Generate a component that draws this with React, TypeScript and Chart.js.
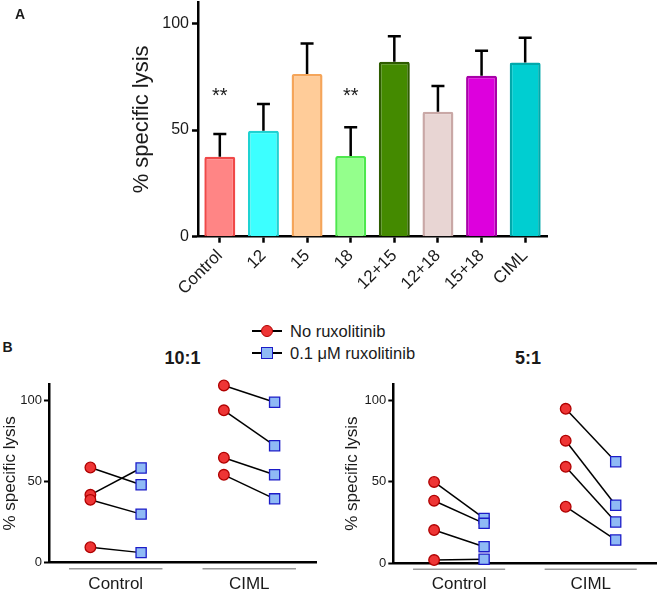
import React, { useEffect, useRef } from 'react';
import { Chart, registerables } from 'chart.js';

Chart.register(...registerables);

const FONT = "'Liberation Sans', Arial, Helvetica, sans-serif";
const INK = '#1a1a1a';

// ---------- Panel A data ----------
const conditions = ['Control', '12', '15', '18', '12+15', '12+18', '15+18', 'CIML'];
const meanLysis = [37.5, 49.7, 76.2, 37.8, 82.0, 58.6, 75.4, 81.7];
const errLysis = [10.6, 12.5, 14.4, 13.5, 12.0, 12.0, 11.8, 11.6];
const significance = ['**', '', '', '**', '', '', '', ''];
const barFill = ['#FF8585', '#3CFFFF', '#FFCC99', '#94FF8C', '#448A00', '#E8D5D3', '#DD00DD', '#00CED1'];
const barEdge = ['#F04848', '#1ED2D2', '#F5A55A', '#4DE84D', '#2E5C00', '#C9A8A6', '#A800A8', '#00A9AB'];
const lysisTicks = [0, 50, 100];

// ---------- Panel B data ----------
const groupLabels = ['Control', 'CIML'];
const seriesNames = ['No ruxolitinib', '0.1 \u03BCM ruxolitinib'];
// E:T 10:1
const r10NoRuxControl = [58.6, 41.8, 38.7, 9.5];
const r10RuxControl = [48.0, 58.3, 29.9, 6.2];
const r10NoRuxCIML = [109.1, 93.8, 64.6, 54.1];
const r10RuxCIML = [98.8, 72.0, 54.1, 39.3];
// E:T 5:1
const r5NoRuxControl = [49.9, 38.4, 20.4, 2.0];
const r5RuxControl = [27.5, 24.5, 10.2, 2.5];
const r5NoRuxCIML = [94.8, 75.2, 59.2, 34.7];
const r5RuxCIML = [62.3, 35.6, 25.3, 14.3];

const RED_FILL = '#EE3535';
const RED_EDGE = '#B00000';
const BLUE_FILL = '#8FBAF5';
const BLUE_EDGE = '#1C1CC8';

function fixBox(w?: number, h?: number) {
  return (scale: any) => {
    if (w !== undefined) scale.width = w;
    if (h !== undefined) scale.height = h;
    scale.paddingLeft = 0;
    scale.paddingRight = 0;
    scale.paddingTop = 0;
    scale.paddingBottom = 0;
  };
}

function setTicks(values: number[]) {
  return (scale: any) => {
    scale.ticks = values.map((v) => ({ value: v }));
  };
}

const STAR_LEVEL = 63;

const errorBarPlugin = {
  id: 'errorBars',
  afterDatasetsDraw(chart: any) {
    const meta = chart.getDatasetMeta(0);
    const y = chart.scales.y;
    const ctx = chart.ctx;
    ctx.save();
    ctx.strokeStyle = '#000';
    ctx.lineWidth = 2.5;
    meta.data.forEach((bar: any, i: number) => {
      const top = y.getPixelForValue(meanLysis[i]);
      const hi = y.getPixelForValue(meanLysis[i] + errLysis[i]);
      ctx.beginPath();
      ctx.moveTo(bar.x, top);
      ctx.lineTo(bar.x, hi);
      ctx.moveTo(bar.x - 6.5, hi);
      ctx.lineTo(bar.x + 6.5, hi);
      ctx.stroke();
      if (significance[i]) {
        ctx.fillStyle = INK;
        ctx.font = `20px ${FONT}`;
        ctx.textAlign = 'center';
        ctx.textBaseline = 'alphabetic';
        ctx.fillText(significance[i], bar.x, y.getPixelForValue(STAR_LEVEL));
      }
    });
    ctx.restore();
  },
};

function barConfig(): any {
  return {
    type: 'bar',
    data: {
      labels: conditions,
      datasets: [
        {
          data: meanLysis,
          backgroundColor: barFill,
          borderColor: barEdge,
          borderWidth: 2.5,
          borderRadius: 2,
          categoryPercentage: 1,
          barPercentage: 0.71,
        },
      ],
    },
    options: {
      responsive: false,
      animation: false,
      layout: { padding: { left: 120, top: 2, right: 13, bottom: 0 } },
      plugins: { legend: { display: false }, tooltip: { enabled: false } },
      scales: {
        x: {
          type: 'category',
          offset: true,
          grid: { display: true, offset: false, drawOnChartArea: false, drawTicks: true, tickLength: 6, tickWidth: 2.5, tickColor: '#000' },
          border: { display: true, color: '#000', width: 2.5 },
          ticks: { minRotation: 45, maxRotation: 45, autoSkip: false, padding: 3, color: INK, font: { family: FONT, size: 17 } },
          afterFit: fixBox(undefined, 63.3),
        },
        y: {
          min: 0,
          max: 110,
          afterBuildTicks: setTicks(lysisTicks),
          grid: { display: true, drawOnChartArea: false, drawTicks: true, tickLength: 6, tickWidth: 2.5, tickColor: '#000' },
          border: { display: true, color: '#000', width: 2.5 },
          ticks: { padding: 3, color: INK, font: { family: FONT, size: 16 } },
          title: { display: true, text: '% specific lysis', color: INK, font: { family: FONT, size: 22 }, padding: { top: 9, bottom: 0 } },
          afterFit: fixBox(78, undefined),
        },
      },
    },
    plugins: [errorBarPlugin],
  };
}

const POINT_SHIFT = 0.19;
const GROUP_HALF = 0.35;

const groupLinePlugin = {
  id: 'groupLines',
  afterDraw(chart: any) {
    const x = chart.scales.x;
    const ctx = chart.ctx;
    const yPix = chart.chartArea.bottom + 6;
    ctx.save();
    ctx.strokeStyle = '#9a9a9a';
    ctx.lineWidth = 1.5;
    groupLabels.forEach((_, gi) => {
      const g = gi + 1;
      ctx.beginPath();
      ctx.moveTo(x.getPixelForValue(g - GROUP_HALF), yPix);
      ctx.lineTo(x.getPixelForValue(g + GROUP_HALF), yPix);
      ctx.stroke();
    });
    ctx.restore();
  },
};

function pairedConfig(noRux: number[][], rux: number[][], yAxisWidth: number, xAxisHeight: number, padRight: number, titlePad: number): any {
  const lineSets: any[] = [];
  const noRuxPts: any[] = [];
  const ruxPts: any[] = [];
  noRux.forEach((vals, gi) => {
    const g = gi + 1;
    vals.forEach((v, k) => {
      const w = rux[gi][k];
      lineSets.push({
        data: [{ x: g - POINT_SHIFT, y: v }, { x: g + POINT_SHIFT, y: w }],
        showLine: true,
        borderColor: '#000',
        borderWidth: 1.5,
        pointRadius: 0,
        clip: false,
        order: 2,
      });
      noRuxPts.push({ x: g - POINT_SHIFT, y: v });
      ruxPts.push({ x: g + POINT_SHIFT, y: w });
    });
  });
  return {
    type: 'scatter',
    data: {
      datasets: [
        ...lineSets,
        {
          label: seriesNames[0],
          data: noRuxPts,
          pointStyle: 'circle',
          pointRadius: 5.3,
          pointBackgroundColor: RED_FILL,
          pointBorderColor: RED_EDGE,
          pointBorderWidth: 1.3,
          showLine: false,
          clip: false,
          order: 0,
        },
        {
          label: seriesNames[1],
          data: ruxPts,
          pointStyle: 'rect',
          pointRadius: 7.2,
          pointBackgroundColor: BLUE_FILL,
          pointBorderColor: BLUE_EDGE,
          pointBorderWidth: 1.3,
          showLine: false,
          clip: false,
          order: 0,
        },
      ],
    },
    options: {
      responsive: false,
      animation: false,
      layout: { padding: { left: 0, top: 14, right: padRight, bottom: 0 } },
      plugins: { legend: { display: false }, tooltip: { enabled: false } },
      scales: {
        x: {
          type: 'linear',
          min: 0.5,
          max: 2.5,
          afterBuildTicks: setTicks([1, 2]),
          grid: { display: false, drawTicks: false, tickLength: 0 },
          border: { display: true, color: '#000', width: 2.5 },
          ticks: {
            padding: 11,
            color: INK,
            font: { family: FONT, size: 17 },
            callback: (v: number) => groupLabels[Math.round(v) - 1] ?? '',
          },
          afterFit: fixBox(undefined, xAxisHeight),
        },
        y: {
          type: 'linear',
          min: 0,
          max: 110,
          afterBuildTicks: setTicks(lysisTicks),
          grid: { display: true, drawOnChartArea: false, drawTicks: true, tickLength: 5, tickWidth: 2, tickColor: '#000' },
          border: { display: true, color: '#000', width: 2.5 },
          ticks: { padding: 2, color: INK, font: { family: FONT, size: 13 } },
          title: { display: true, text: '% specific lysis', color: INK, font: { family: FONT, size: 17 }, padding: { top: titlePad, bottom: 0 } },
          afterFit: fixBox(yAxisWidth, undefined),
        },
      },
    },
    plugins: [groupLinePlugin],
  };
}

function ChartBox({ make, left, top, width, height }: { make: () => any; left: number; top: number; width: number; height: number }) {
  const ref = useRef<HTMLCanvasElement>(null);
  useEffect(() => {
    const chart = new Chart(ref.current as HTMLCanvasElement, make());
    return () => chart.destroy();
  }, []);
  return (
    <canvas
      ref={ref}
      width={width}
      height={height}
      style={{ position: 'absolute', left, top, width, height, display: 'block' }}
    />
  );
}

function Label({ text, cx, cy, size, bold }: { text: string; cx: number; cy: number; size: number; bold?: boolean }) {
  return (
    <div
      style={{
        position: 'absolute',
        left: cx - 60,
        top: cy - 12,
        width: 120,
        height: 24,
        lineHeight: '24px',
        textAlign: 'center',
        fontFamily: FONT,
        fontSize: size,
        fontWeight: bold ? 700 : 400,
        color: INK,
        whiteSpace: 'nowrap',
      }}
    >
      {text}
    </div>
  );
}

function LegendRow({ cy, kind, text }: { cy: number; kind: 'circle' | 'square'; text: string }) {
  const cx = 266.7;
  const size = 12;
  return (
    <>
      <div style={{ position: 'absolute', left: cx - 15, top: cy - 1, width: 30, height: 2, background: '#000' }} />
      <div
        style={{
          position: 'absolute',
          left: cx - size / 2,
          top: cy - size / 2,
          width: size,
          height: size,
          boxSizing: 'border-box',
          borderRadius: kind === 'circle' ? '50%' : 0,
          background: kind === 'circle' ? RED_FILL : BLUE_FILL,
          border: `1.3px solid ${kind === 'circle' ? RED_EDGE : BLUE_EDGE}`,
        }}
      />
      <div
        style={{
          position: 'absolute',
          left: 290,
          top: cy - 10,
          height: 20,
          lineHeight: '20px',
          fontFamily: FONT,
          fontSize: 16.5,
          color: INK,
          whiteSpace: 'nowrap',
        }}
      >
        {text}
      </div>
    </>
  );
}

export default function App() {
  return (
    <div style={{ position: 'fixed', left: 0, top: 0, width: 665, height: 595, background: '#fff', overflow: 'hidden' }}>
      <ChartBox make={barConfig} left={0} top={0} width={560} height={300} />
      <ChartBox
        make={() => pairedConfig([r10NoRuxControl, r10NoRuxCIML], [r10RuxControl, r10RuxCIML], 49, 32.3, 14, 0)}
        left={0}
        top={370}
        width={330}
        height={225}
      />
      <ChartBox
        make={() => pairedConfig([r5NoRuxControl, r5NoRuxCIML], [r5RuxControl, r5RuxCIML], 53.3, 31.7, 2, 2)}
        left={340}
        top={370}
        width={325}
        height={225}
      />
      <Label text="A" cx={20} cy={13.5} size={14} bold />
      <Label text="B" cx={7.5} cy={347} size={14} bold />
      <Label text="10:1" cx={182.5} cy={357.5} size={18} bold />
      <Label text="5:1" cx={528} cy={357.5} size={18} bold />
      <LegendRow cy={330.7} kind="circle" text={seriesNames[0]} />
      <LegendRow cy={353.3} kind="square" text={seriesNames[1]} />
    </div>
  );
}
